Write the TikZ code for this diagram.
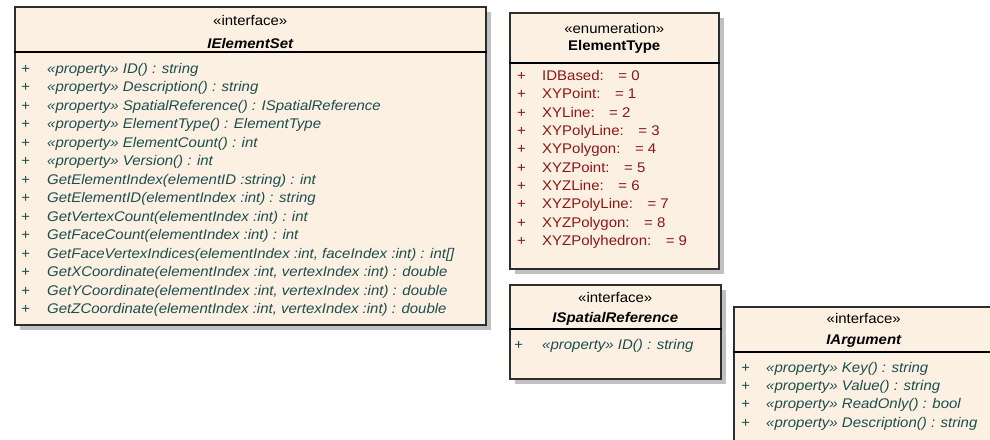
\documentclass[tikz,border=0pt]{standalone}
\usepackage{fontspec}
\newfontfamily\umlfont{Liberation Sans}[FakeStretch=1.07]
\usepackage{tikz}
\usetikzlibrary{shadows}
\usepackage{xcolor}

\definecolor{classfill}{RGB}{251,240,226}
\definecolor{opcolor}{RGB}{28,78,78}
\definecolor{enumcolor}{RGB}{140,22,22}
\definecolor{shadowgray}{RGB}{192,192,192}
\definecolor{boxline}{RGB}{45,45,45}

\tikzset{
  umlbox/.style={draw=boxline, line width=1.5pt, fill=classfill, anchor=north west,
    inner sep=0pt, drop shadow={shadow xshift=5pt, shadow yshift=-5pt, fill=shadowgray, opacity=1}},
  sepline/.style={line width=1.3pt, black},
  stereo/.style={font=\umlfont\fontsize{14}{16}\selectfont, inner sep=0pt},
  clsname/.style={font=\umlfont\fontsize{14}{16}\selectfont\bfseries\itshape, inner sep=0pt},
  enumname/.style={font=\umlfont\fontsize{14}{16}\selectfont\bfseries, inner sep=0pt},
  oprow/.style={font=\umlfont\fontsize{14}{16}\selectfont\itshape, text=opcolor, anchor=west,
    inner sep=0pt, text height=10pt, text depth=3pt},
  enumrow/.style={font=\umlfont\fontsize{14}{16}\selectfont, text=enumcolor, anchor=west,
    inner sep=0pt, text height=10pt, text depth=3pt},
}
\newcommand{\enumval}[2]{#1:\hspace{9pt} = #2}

\begin{document}
\begin{tikzpicture}[x=1pt,y=-1pt]
\clip (0,0) rectangle (990,439);

%%%IELEMENTSET
\node[umlbox, minimum width=471pt, minimum height=318pt] (elemset) at (14,6) {};
\node[stereo] (elemset-st) at ([yshift=-14pt]elemset.north) {«interface»};
\node[clsname] (elemset-nm) at ([yshift=-37pt]elemset.north) {IElementSet};
\draw[sepline] ([yshift=-46pt]elemset.north west) -- ([yshift=-46pt]elemset.north east);
\foreach \txt [count=\i] in {
  {«property» ID() : string},
  {«property» Description() : string},
  {«property» SpatialReference() : ISpatialReference},
  {«property» ElementType() : ElementType},
  {«property» ElementCount() : int},
  {«property» Version() : int},
  {GetElementIndex(elementID :string) : int},
  {GetElementID(elementIndex :int) : string},
  {GetVertexCount(elementIndex :int) : int},
  {GetFaceCount(elementIndex :int) : int},
  {GetFaceVertexIndices(elementIndex :int, faceIndex :int) : int[]},
  {GetXCoordinate(elementIndex :int, vertexIndex :int) : double},
  {GetYCoordinate(elementIndex :int, vertexIndex :int) : double},
  {GetZCoordinate(elementIndex :int, vertexIndex :int) : double}}
{
  \node[oprow] (elemset-pl\i) at (21,{70+18.46*(\i-1)}) {+};
  \node[oprow] (elemset-op\i) at (47,{70+18.46*(\i-1)}) {\txt};
}

%%%ELEMENTTYPE
\node[umlbox, minimum width=209pt, minimum height=256pt] (elemtype) at (509,12) {};
\node[stereo] (elemtype-st) at ([yshift=-16pt]elemtype.north) {«enumeration»};
\node[enumname] (elemtype-nm) at ([yshift=-35pt]elemtype.north) {ElementType};
\draw[sepline] ([yshift=-51pt]elemtype.north west) -- ([yshift=-51pt]elemtype.north east);
\foreach \lit/\val [count=\i] in {
  IDBased/0, XYPoint/1, XYLine/2, XYPolyLine/3, XYPolygon/4,
  XYZPoint/5, XYZLine/6, XYZPolyLine/7, XYZPolygon/8, XYZPolyhedron/9}
{
  \node[enumrow] (elemtype-pl\i) at (517,{77+18.33*(\i-1)}) {+};
  \node[enumrow] (elemtype-at\i) at (542,{77+18.33*(\i-1)}) {\enumval{\lit}{\val}};
}

%%%ISPATIALREFERENCE
\node[umlbox, minimum width=211pt, minimum height=94pt] (spatref) at (509,284) {};
\node[stereo] (spatref-st) at ([yshift=-13pt]spatref.north) {«interface»};
\node[clsname] (spatref-nm) at ([yshift=-35pt]spatref.north) {ISpatialReference};
\draw[sepline] ([yshift=-45pt]spatref.north west) -- ([yshift=-45pt]spatref.north east);
\node[oprow] (spatref-pl1) at (514,346) {+};
\node[oprow] (spatref-op1) at (542,346) {«property» ID() : string};

%%%IARGUMENT
\node[umlbox, minimum width=270pt, minimum height=150pt] (argument) at (733,306) {};
\node[stereo] (argument-st) at ([xshift=-5pt,yshift=-12pt]argument.north) {«interface»};
\node[clsname] (argument-nm) at ([xshift=-5pt,yshift=-35pt]argument.north) {IArgument};
\draw[sepline] ([yshift=-46pt]argument.north west) -- ([yshift=-46pt]argument.north east);
\foreach \txt [count=\i] in {
  {«property» Key() : string}, {«property» Value() : string},
  {«property» ReadOnly() : bool}, {«property» Description() : string}}
{
  \node[oprow] (argument-pl\i) at (741,{369+18.2*(\i-1)}) {+};
  \node[oprow] (argument-op\i) at (766,{369+18.2*(\i-1)}) {\txt};
}
\end{tikzpicture}
\end{document}
